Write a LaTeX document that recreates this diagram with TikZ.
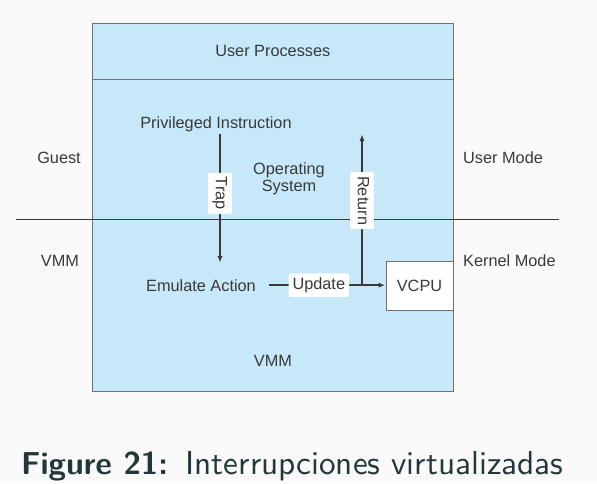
\documentclass[tikz,border=0pt]{standalone}
\usepackage{fontspec}
\setmainfont{Liberation Sans}
\newfontfamily\capfont{lmsans10-regular.otf}[BoldFont=lmsans10-bold.otf]
\usetikzlibrary{arrows.meta}
\definecolor{bg}{HTML}{FAFAFA}
\definecolor{vbox}{HTML}{C6E8F8}
\definecolor{ink}{HTML}{3A3A3A}
\definecolor{edge}{HTML}{707070}
\definecolor{capc}{HTML}{23373B}
\begin{document}
\begin{tikzpicture}[x=1pt,y=-1pt,
  every node/.style={text=ink,font=\fontsize{16.3}{17}\selectfont,inner sep=0pt},
  lbl/.style={fill=white,rounded corners=2pt,inner xsep=4pt,inner ysep=4.3pt,text height=11.8pt,text depth=3.4pt},
  conn/.style={draw=ink,line width=1.4pt,-{Latex[length=7pt,width=5pt]}}]
\fill[bg] (0,0) rectangle (597,483);
\useasboundingbox (0,0) rectangle (597,483);
% main box
\node[draw=edge,fill=vbox,line width=1pt,minimum width=360.5pt,minimum height=368pt] (vm) at (272.8,207) {};
\draw[edge,line width=1pt] (vm.west |- 0,79.3) -- (vm.east |- 0,79.3);
% mode divider
\coordinate (ml) at (16,219.3);
\coordinate (mr) at (559,219.3);
\draw[ink,line width=1.3pt] (ml) -- (mr);
% texts
\node[anchor=base] (up) at (272.8,56.5) {User Processes};
\node[anchor=base] (pi) at (216,128) {Privileged Instruction};
\node[anchor=base] (guest) at (59,163) {Guest};
\node[anchor=base,align=center] (os) at (289,191) {Operating\\System};
\node[anchor=base west] (um) at (463,163) {User Mode};
\node[anchor=base] (vmml) at (60,266) {VMM};
\node[anchor=base west] (km) at (463,266) {Kernel Mode};
\node[anchor=base] (ea) at (201,291) {Emulate Action};
\node[anchor=base] (vmmb) at (273,366) {VMM};
\node[draw=edge,fill=white,line width=1pt,minimum width=67pt,minimum height=49pt] (vcpu) at (419.5,285.5) {VCPU};
% connectors
\coordinate (t1) at (220,134);
\coordinate (t2) at (220,263);
\draw[conn] (t1) -- (t2) node[lbl,pos=0.46,rotate=-90] (trap) {Trap};
\draw[conn,shorten <=13pt] (ea.east) -- (ea.east -| vcpu.west) node[lbl,pos=0.485] (upd) {Update};
\coordinate (j) at (362,285.5);
\coordinate (r2) at (362,134);
\draw[conn] (j) -- (r2) node[lbl,pos=0.56,rotate=-90] (ret) {Return};
% caption
\node[anchor=base west,text=capc,font=\capfont\fontsize{31.7}{36}\selectfont] (cap) at (21,474) {\textbf{Figure 21:}\hspace{17.5pt}{\fontsize{33.2}{36}\selectfont Interrupciones virtualizadas}};
\end{tikzpicture}
\end{document}
